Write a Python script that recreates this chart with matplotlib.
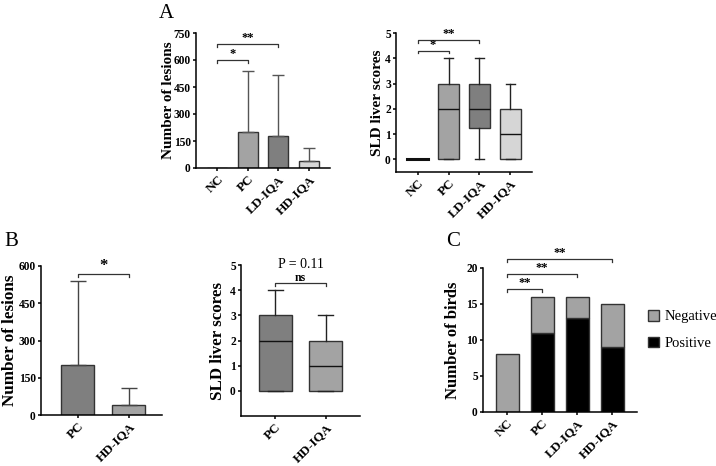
import matplotlib
matplotlib.use("Agg")
import matplotlib.pyplot as plt
import numpy as np

plt.rcParams['font.family'] = ['Liberation Serif', 'DejaVu Serif']
plt.rcParams['font.weight'] = 'bold'

# ---------------- data ----------------
groups4 = ["NC", "PC", "LD-IQA", "HD-IQA"]
lesion_mean = [0, 200, 180, 40]
lesion_err_top = [0, 540, 515, 110]
lesion_ticks = [0, 150, 300, 450, 600, 750]

sld_q1 = [0, 0, 1.25, 0]
sld_med = [0, 2, 2, 1]
sld_q3 = [0, 3, 3, 2]
sld_lo = [0, 0, 0, 0]
sld_hi = [0, 4, 4, 3]
sld_ticks = [0, 1, 2, 3, 4, 5]

groups2 = ["PC", "HD-IQA"]
b_lesion_mean = [200, 40]
b_lesion_err_top = [540, 110]
b_lesion_ticks = [0, 150, 300, 450, 600]

b_q1 = [0, 0]
b_med = [2, 1]
b_q3 = [3, 2]
b_lo = [0, 0]
b_hi = [4, 3]

positive = [0, 11, 13, 9]
negative = [8, 5, 3, 6]
birds_ticks = [0, 5, 10, 15, 20]

colors4 = ["#d0d0d0", "#a3a3a3", "#7f7f7f", "#d6d6d6"]
colors2 = ["#7f7f7f", "#a3a3a3"]
edge = "#333333"

W, H = 716, 466
fig = plt.figure(figsize=(W / 100, H / 100), dpi=100)


def ax_at(l, r, t, b):
    return fig.add_axes([l / W, 1 - b / H, (r - l) / W, (b - t) / H])


def style(ax, label, fs, right_px, left_px, width_px):
    for s in ["top", "right"]:
        ax.spines[s].set_visible(False)
    for s in ["left", "bottom"]:
        ax.spines[s].set_linewidth(1.1)
    ax.tick_params(axis='both', direction='out', width=1.1, length=2.5, pad=1.2)
    ax.tick_params(axis='y', labelsize=8.3)
    for lab in ax.get_yticklabels():
        lab.set_fontweight('bold')
    ax.set_ylabel(label, fontsize=fs, fontweight='bold')
    ax.yaxis.set_label_coords((right_px - left_px) / width_px, 0.5)


def bracket(ax, x0, x1, y, dy, label, fs=9, dy_text=0.0):
    ax.plot([x0, x0, x1, x1], [y - dy, y, y, y - dy], color="#333333",
            lw=0.9, clip_on=False)
    ax.text((x0 + x1) / 2, y + dy_text, label, ha='center', va='bottom',
            fontsize=fs, fontweight='bold', clip_on=False)


def xlabels(ax, labels):
    ax.set_xticks(range(len(labels)))
    ax.set_xticklabels(labels, rotation=45, ha='right', rotation_mode='anchor',
                       fontweight='bold', fontsize=9.5)


def boxes(ax, q1, med, q3, lo, hi, colors, width):
    stats = [dict(q1=a, med=m, q3=c, whislo=l, whishi=h, fliers=[])
             for a, m, c, l, h in zip(q1, med, q3, lo, hi)]
    bp = ax.bxp(stats, positions=range(len(stats)), widths=width,
                patch_artist=True, showfliers=False, manage_ticks=False,
                boxprops=dict(edgecolor=edge, linewidth=1.0),
                medianprops=dict(color='#111111', linewidth=1.0),
                whiskerprops=dict(color='#222222', linewidth=1.0),
                capprops=dict(color='#222222', linewidth=1.0),
                capwidths=width * 0.45)
    for p, c in zip(bp['boxes'], colors):
        p.set_facecolor(c)
    return bp


# ---------------- A1 ----------------
ax = ax_at(196, 330, 33, 168)
x = np.arange(len(groups4))
yerr = np.array([np.zeros(4), np.array(lesion_err_top) - np.array(lesion_mean)])
ax.bar(x, lesion_mean, width=0.65, color=colors4, edgecolor=edge, linewidth=1.0)
ax.errorbar(x[1:], lesion_mean[1:], yerr=yerr[:, 1:], fmt='none',
            ecolor='#555555', elinewidth=1.0, capsize=4, capthick=1.0)
ax.set_ylim(0, 750)
ax.set_yticks(lesion_ticks)
ax.set_xlim(-0.7, 3.7)
xlabels(ax, groups4)
style(ax, "Number of lesions", 11, 175, 196, 134)
bracket(ax, 0, 1, 600, 18, "*")
bracket(ax, 0, 2, 690, 18, "**")

# ---------------- A2 ----------------
ax = ax_at(396, 532, 33, 172)
boxes(ax, sld_q1, sld_med, sld_q3, sld_lo, sld_hi, colors4, 0.67)
ax.plot([-0.33, 0.33], [0, 0], color='#111111', lw=2.2)
ax.set_ylim(-0.5, 5)
ax.set_yticks(sld_ticks)
ax.set_xlim(-0.7, 3.7)
xlabels(ax, groups4)
style(ax, "SLD liver scores", 11, 384, 396, 136)
bracket(ax, 0, 1, 4.3, 0.1, "*")
bracket(ax, 0, 2, 4.72, 0.1, "**")

# ---------------- B1 ----------------
ax = ax_at(41, 162, 266, 415)
x2 = np.arange(len(groups2))
yerr2 = np.array([np.zeros(2), np.array(b_lesion_err_top) - np.array(b_lesion_mean)])
ax.bar(x2, b_lesion_mean, width=0.65, color=colors2, edgecolor=edge, linewidth=1.0)
ax.errorbar(x2, b_lesion_mean, yerr=yerr2, fmt='none', ecolor='#444444',
            elinewidth=1.0, capsize=6, capthick=1.0)
ax.set_ylim(0, 600)
ax.set_yticks(b_lesion_ticks)
ax.set_xlim(-0.72, 1.65)
xlabels(ax, groups2)
style(ax, "Number of lesions", 12.3, 18, 41, 121)
bracket(ax, 0, 1, 568, 14, "*", fs=12)

# ---------------- B2 ----------------
ax = ax_at(241, 360, 265, 416)
boxes(ax, b_q1, b_med, b_q3, b_lo, b_hi, colors2, 0.65)
ax.set_ylim(-1, 5)
ax.set_yticks(sld_ticks)
ax.set_xlim(-0.67, 1.67)
xlabels(ax, groups2)
style(ax, "SLD liver scores", 12.2, 226, 241, 119)
bracket(ax, 0, 1, 4.28, 0.12, "ns", fs=8.5, dy_text=-0.05)
ax.text(0.5, 4.75, "P = 0.11", ha='center', va='bottom', fontsize=10,
        fontweight='normal', clip_on=False)

# ---------------- C ----------------
ax = ax_at(483, 637, 268, 412)
x = np.arange(len(groups4))
ax.bar(x, positive, width=0.66, color='black', edgecolor=edge, linewidth=1.0,
       label="Positive")
ax.bar(x, negative, bottom=positive, width=0.66, color='#a3a3a3', edgecolor=edge,
       linewidth=1.0, label="Negative")
ax.set_ylim(0, 20)
ax.set_yticks(birds_ticks)
ax.set_xlim(-0.69, 3.71)
xlabels(ax, groups4)
style(ax, "Number of birds", 12, 461, 483, 154)
bracket(ax, 0, 1, 17.1, 0.4, "**")
bracket(ax, 0, 2, 19.2, 0.4, "**")
bracket(ax, 0, 3, 21.25, 0.4, "**")
h, l = ax.get_legend_handles_labels()
leg = fig.legend(h[::-1], l[::-1], loc='center left',
                 bbox_to_anchor=(638 / W, 1 - 330 / H), frameon=False,
                 prop={'family': 'Liberation Serif', 'weight': 'normal', 'size': 10.5},
                 handlelength=0.75, handleheight=0.75, labelspacing=0.9,
                 handletextpad=0.35, borderpad=0.2)

# ---------------- panel letters ----------------
fig.text(166 / W, 1 - 13 / H, "A", fontsize=15, fontweight='normal',
         ha='center', va='center')
fig.text(11 / W, 1 - 242 / H, "B", fontsize=15, fontweight='normal',
         ha='center', va='center')
fig.text(453 / W, 1 - 241 / H, "C", fontsize=15, fontweight='normal',
         ha='center', va='center')

fig.savefig("out.png", dpi=100)
